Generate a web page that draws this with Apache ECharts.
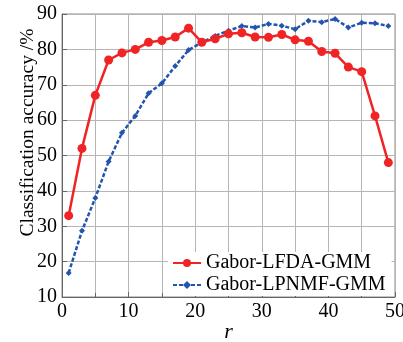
<!DOCTYPE html>
<html><head><meta charset="utf-8">
<script src="https://cdn.jsdelivr.net/npm/echarts@6/dist/echarts.min.js"></script>
<style>html,body{margin:0;padding:0;background:#fff}#c{width:403px;height:342px}</style>
</head><body><div id="c"></div>
<script>
const rValues = [1,3,5,7,9,11,13,15,17,19,21,23,25,27,29,31,33,35,37,39,41,43,45,47,49];
const lfdaValues = [33,52,67,77,79,80,82,82.5,83.5,86,82,83,84.4,84.7,83.5,83.4,84.2,82.7,82.3,79.4,78.9,75,73.7,61.2,48];
const lpnmfValues = [16.8,28.7,38,48.3,56.4,61.2,67.6,70.4,75.3,79.8,82,83.8,85.3,86.6,86.2,87.2,86.7,85.7,88.1,87.7,88.6,86.2,87.5,87.4,86.6];
const seriesNames = ['Gabor-LFDA-GMM','Gabor-LPNMF-GMM'];
const xTicks = [0,10,20,30,40,50];
const yTicks = [10,20,30,40,50,60,70,80,90];

const FONT = 'Liberation Serif';
const chart = echarts.init(document.getElementById('c'));
const pair = (ys) => rValues.map((x,i)=>[x, ys[i]]);
chart.setOption({
  animation:false,
  backgroundColor:'#fff',
  grid:{left:62,right:8,top:14,bottom:45,show:true,borderColor:'#8a8a8a',borderWidth:1,
    containLabel:false,outerBoundsMode:'none'},
  xAxis:{type:'value',min:xTicks[0],max:xTicks[xTicks.length-1],interval:10,
    name:'r',nameLocation:'middle',nameGap:24,nameMoveOverlap:false,
    nameTextStyle:{fontFamily:FONT,fontSize:22,fontStyle:'italic',color:'#000'},
    axisLine:{show:true,lineStyle:{color:'#666'}},
    axisTick:{show:true,inside:true,length:5,lineStyle:{color:'#666'}},
    minorTick:{show:true,splitNumber:2,length:4,lineStyle:{color:'#666'}},
    axisLabel:{fontFamily:FONT,fontSize:20,color:'#000',margin:5},
    splitLine:{show:true,lineStyle:{color:'#b5b5b5',width:1}},
    minorSplitLine:{show:true,lineStyle:{color:'#b5b5b5',width:1}}},
  yAxis:{type:'value',min:yTicks[0],max:yTicks[yTicks.length-1],interval:10,
    name:'Classification accuracy /%',nameLocation:'middle',nameGap:24,nameRotate:90,nameMoveOverlap:false,
    nameTextStyle:{fontFamily:FONT,fontSize:19.5,color:'#000',padding:[0,0,0,46]},
    axisLine:{show:true,lineStyle:{color:'#666'}},
    axisTick:{show:true,inside:true,length:5,lineStyle:{color:'#666'}},
    axisLabel:{fontFamily:FONT,fontSize:20,color:'#000',margin:5},
    splitLine:{show:true,lineStyle:{color:'#b5b5b5',width:1}}},
  legend:{orient:'vertical',left:168,top:252,itemWidth:28,itemHeight:10,itemGap:2,
    padding:[1,6,1,4],backgroundColor:'#fff',
    textStyle:{fontFamily:FONT,fontSize:20,lineHeight:20,color:'#000'},
    data:seriesNames},
  series:[
    {name:seriesNames[0],type:'line',data:pair(lfdaValues),symbol:'circle',symbolSize:9,
      lineStyle:{color:'#f02424',width:2.5},itemStyle:{color:'#f02424'},z:3},
    {name:seriesNames[1],type:'line',data:pair(lpnmfValues),symbol:'diamond',symbolSize:6,
      lineStyle:{color:'#2455ad',width:2.5,type:[4,2]},itemStyle:{color:'#2455ad'},z:2}
  ]
});
</script></body></html>
